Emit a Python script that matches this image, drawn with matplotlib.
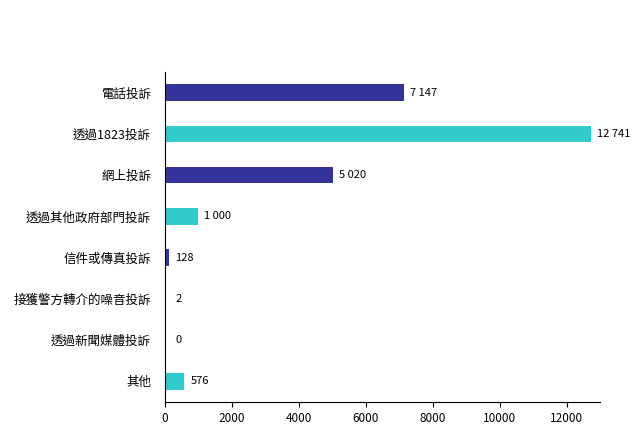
import matplotlib
matplotlib.use("Agg")
import matplotlib.pyplot as plt

plt.rcParams['font.family'] = ['Noto Sans CJK TC', 'DejaVu Sans']

categories = ["電話投訴", "透過1823投訴", "網上投訴", "透過其他政府部門投訴",
              "信件或傳真投訴", "接獲警方轉介的噪音投訴", "透過新聞媒體投訴", "其他"]
values = [7147, 12741, 5020, 1000, 128, 2, 0, 576]
labels = ["7 147", "12 741", "5 020", "1 000", "128", "2", "0", "576"]
colors = ["#333399", "#33CCCC"] * 4

fig = plt.figure(figsize=(6.34, 4.48), dpi=100)
ax = fig.add_axes([165/634, 1-402/448, 435/634, 330/448])
y = list(range(len(categories)))
ax.barh(y, values, height=0.4, color=colors)
for yi, v, l in zip(y, values, labels):
    ax.annotate(l, (v, yi), xytext=(6 if v > 10 else 10, 0), textcoords='offset pixels',
                va='center', ha='left', fontsize=8)
ax.set_ylim(len(categories) - 0.5, -0.5)
ax.set_xlim(0, 13000)
ax.set_yticks(y)
ax.set_yticklabels(categories, fontsize=9)
ax.set_xticks([0, 2000, 4000, 6000, 8000, 10000, 12000])
ax.tick_params(axis='x', labelsize=8.5)
ax.tick_params(axis='y', length=0, pad=10)
for s in ['top', 'right']:
    ax.spines[s].set_visible(False)
fig.savefig("out.png", dpi=100)
